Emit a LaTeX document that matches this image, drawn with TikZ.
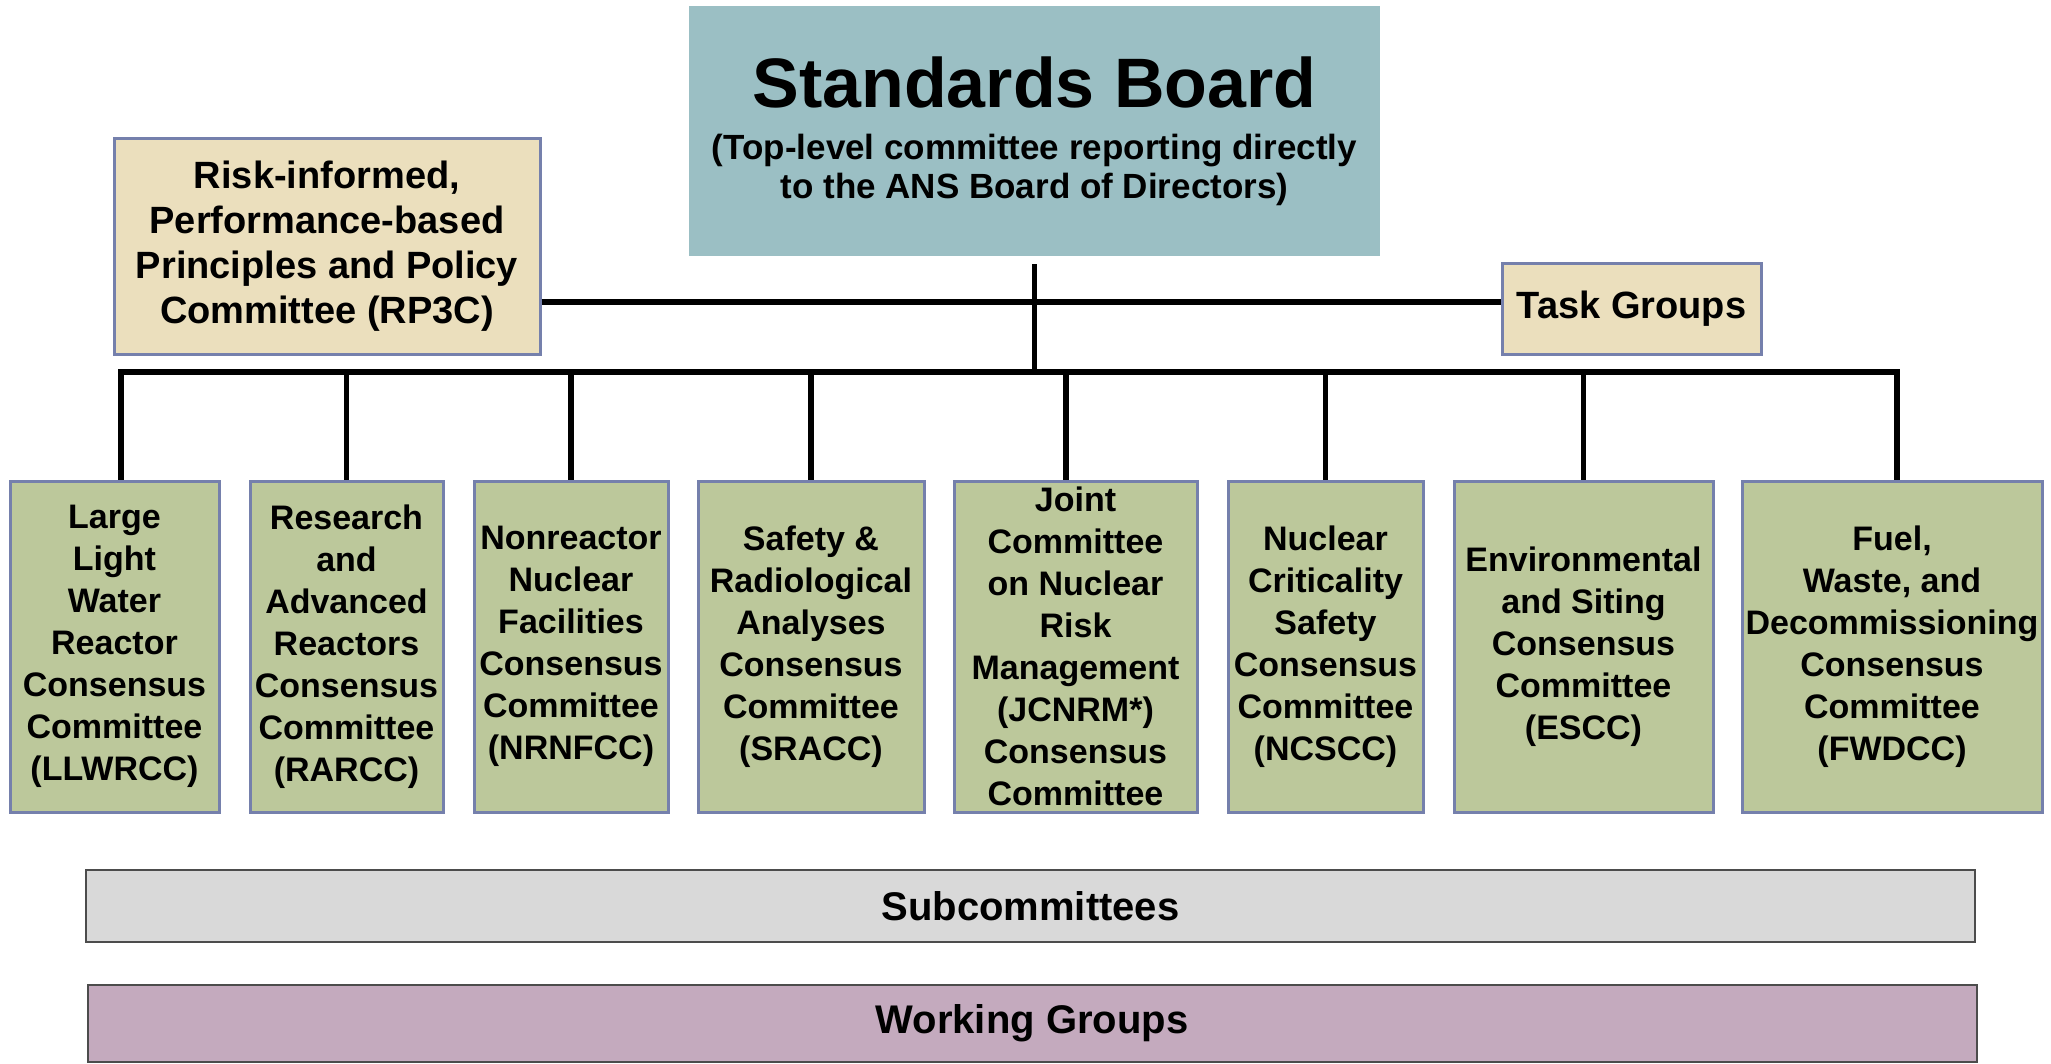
\documentclass[tikz,border=0pt]{standalone}
\usepackage{fontspec}
\setmainfont{Liberation Sans}
\definecolor{boardblue}{HTML}{9BBFC4}
\definecolor{policytan}{HTML}{EBDFBD}
\definecolor{ccgreen}{HTML}{BCC89B}
\definecolor{boxedge}{HTML}{7580AC}
\definecolor{subgray}{HTML}{D9D9D9}
\definecolor{wgmauve}{HTML}{C4AABE}

\begin{document}
\begin{tikzpicture}[x=1pt,y=-1pt,
		link/.style={line width=5.5pt},
		board/.style={fill=boardblue, inner sep=0pt, minimum width=691pt, minimum height=250pt, align=center, font=\fontsize{35}{39}\selectfont\bfseries},
		side/.style={draw=boxedge, line width=3pt, fill=policytan, inner sep=0pt, align=center, font=\fontsize{38}{45}\selectfont\bfseries},
		cc/.style={draw=boxedge, line width=3pt, fill=ccgreen, inner sep=0pt, minimum height=331pt, align=center, font=\fontsize{34}{42}\selectfont\bfseries},
		bar/.style={draw=black!70, line width=2pt, inner sep=0pt, minimum width=1889pt, font=\fontsize{40}{44}\selectfont\bfseries}]
		    	\useasboundingbox (0,0) rectangle (2051,1063);
		    	
		    	% top level
		    	\node[board] (SB) at (1034.5,131) {{\fontsize{70}{70}\selectfont Standards Board}\\[13pt](Top-level committee reporting directly\\to the ANS Board of Directors)};
		    	\node[side, minimum width=426pt, minimum height=216pt] (RP) at (327,246) {Risk-informed,\\Performance-based\\Principles and Policy\\Committee (RP3C)};
		    	\node[side, minimum width=259pt, minimum height=91pt] (TG) at (1631.5,308.5) {Task Groups};
		    	
		    	% consensus committees
		    	\node[cc, minimum width=209pt] (CA) at (114.5,646.5) {Large\\Light\\Water\\Reactor\\Consensus\\Committee\\(LLWRCC)};
		    	\node[cc, minimum width=193pt] (CB) at (346.5,646.5) {Research\\and\\Advanced\\Reactors\\Consensus\\Committee\\(RARCC)};
		    	\node[cc, minimum width=194pt] (CC) at (571,646.5) {Nonreactor\\Nuclear\\Facilities\\Consensus\\Committee\\(NRNFCC)};
		    	\node[cc, minimum width=226pt] (CD) at (811,646.5) {Safety \&\\Radiological\\Analyses\\Consensus\\Committee\\(SRACC)};
		    	\node[cc, minimum width=243pt] (CE) at (1075.5,646.5) {Joint\\Committee\\on Nuclear\\Risk\\Management\\(JCNRM*)\\Consensus\\Committee};
		    	\node[cc, minimum width=195pt] (CF) at (1325.5,646.5) {Nuclear\\Criticality\\Safety\\Consensus\\Committee\\(NCSCC)};
		    	\node[cc, minimum width=259pt] (CG) at (1583.5,646.5) {Environmental\\and Siting\\Consensus\\Committee\\(ESCC)};
		    	\node[cc, minimum width=300pt] (CH) at (1892,646.5) {Fuel,\\Waste, and\\Decommissioning\\Consensus\\Committee\\(FWDCC)};
		    	
		    	% lower levels
		    	\node[bar, fill=subgray, minimum height=72pt] (SC) at (1030.5,906) {Subcommittees};
		    	\node[bar, fill=wgmauve, minimum height=77pt] (WG) at (1032,1023) {Working Groups};
		    	
		    	\coordinate (HB) at (1035,302);
		    	\coordinate (BU) at (1035,372);
		    	
		    	\draw[link, shorten <=8pt] (SB.south) -- (SB.south |- BU);
		    	\draw[link] (RP.east |- HB) -- (TG.west |- HB);
		    	\draw[link] ([xshift=6.5pt]CA.north) |- ([xshift=5pt]CH.north |- BU) -- ([xshift=5pt]CH.north);
		    	\foreach \n in {CB,CC,CD,CF,CG}
		    		\draw[link] (\n.north) -- (\n.north |- BU);
		    	\draw[link] ([xshift=-9.5pt]CE.north) -- ([xshift=-9.5pt]CE.north |- BU);
		    \end{tikzpicture}
\end{document}
